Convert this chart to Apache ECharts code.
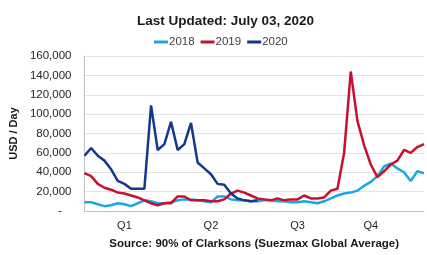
<!DOCTYPE html>
<html>
<head>
<meta charset="utf-8">
<script src="https://cdn.jsdelivr.net/npm/echarts@6/dist/echarts.min.js"></script>
<style>
  html, body { margin: 0; padding: 0; background: #fff; }
  #chart { width: 427px; height: 255px; }
</style>
</head>
<body>
<div id="chart"></div>
<script>
// weekly rates, USD/day (thousands)
const weeks = Array.from({ length: 52 }, (_, i) => i + 1)
const quarterAt = { 6: 'Q1', 19: 'Q2', 32: 'Q3', 43: 'Q4' }

const y2018 = [9, 9, 7, 5, 6, 8, 7, 5, 8, 11, 10, 8, 8, 9, 11, 12, 12, 11, 10, 9,
  15, 15, 12, 11, 11, 10, 10, 11, 11, 10, 10, 9, 9, 10, 9, 8, 10, 13, 16, 18,
  19, 21, 26, 30, 36, 46, 49, 44, 40, 31, 41, 39]
const y2019 = [39, 36, 28, 24, 22, 19, 18, 16, 14, 11, 8, 6, 8, 8, 15, 15, 11, 11, 11, 10,
  10, 12, 18, 21, 19, 16, 13, 12, 11, 13, 11, 12, 12, 16, 13, 13, 14, 21, 23, 60,
  144, 93, 68, 48, 35, 41, 48, 52, 63, 60, 66, 69]
const y2020 = [57, 65, 57, 52, 43, 31, 28, 23, 23, 23, 109, 63, 69, 92, 63, 69, 91, 50, 44, 38,
  28, 27, 18, 13, 11, 10, 11]

const k = arr => arr.map(v => v * 1000)

const myChart = echarts.init(document.getElementById('chart'))

const lineSeries = (name, data, color) => ({
  name: name,
  type: 'line',
  data: k(data),
  symbol: 'none',
  lineStyle: { width: 2.5, color: color },
  itemStyle: { color: color }
})

myChart.setOption({
  animation: false,
  textStyle: { fontFamily: 'Liberation Sans, Arial, sans-serif' },
  title: {
    text: 'Last Updated: July 03, 2020',
    left: 132,
    top: 9,
    textStyle: { fontSize: 13.5, fontWeight: 'bold', color: '#1a1a1a' }
  },
  legend: {
    top: 31,
    left: 149,
    itemWidth: 14,
    itemHeight: 3,
    itemGap: 6,
    icon: 'rect',
    textStyle: { fontSize: 11.5, color: '#404040', padding: [0, 0, 0, -4] },
    data: ['2018', '2019', '2020']
  },
  grid: { left: 80, right: 1, top: 56, bottom: 38 },
  xAxis: {
    type: 'category',
    data: weeks,
    boundaryGap: false,
    name: 'Source: 90% of Clarksons (Suezmax Global Average)',
    nameLocation: 'middle',
    nameGap: 27,
    nameTextStyle: { fontSize: 11.5, fontWeight: 'bold', color: '#1a1a1a' },
    axisLine: { lineStyle: { color: '#bfbfbf', width: 1 } },
    axisTick: { show: false },
    axisLabel: {
      interval: 0,
      fontSize: 11,
      color: '#262626',
      margin: 9,
      formatter: (v, i) => quarterAt[i] || ''
    },
    splitLine: { show: false }
  },
  yAxis: {
    type: 'value',
    min: 0,
    max: 160000,
    interval: 20000,
    name: 'USD / Day',
    nameLocation: 'middle',
    nameGap: 60,
    nameRotate: 90,
    nameTextStyle: { fontSize: 11, fontWeight: 'bold', color: '#1a1a1a' },
    axisLine: { show: true, lineStyle: { color: '#bfbfbf', width: 1 } },
    axisTick: { show: false },
    axisLabel: {
      fontSize: 11.5,
      color: '#262626',
      margin: 13,
      formatter: v => v === 0 ? '-   ' : v.toLocaleString('en-US')
    },
    splitLine: { lineStyle: { color: '#e3e3e3', width: 1 } }
  },
  series: [
    lineSeries('2018', y2018, '#1BA8E2'),
    lineSeries('2019', y2019, '#C8102E'),
    lineSeries('2020', y2020, '#13388C')
  ]
})
</script>
</body>
</html>
